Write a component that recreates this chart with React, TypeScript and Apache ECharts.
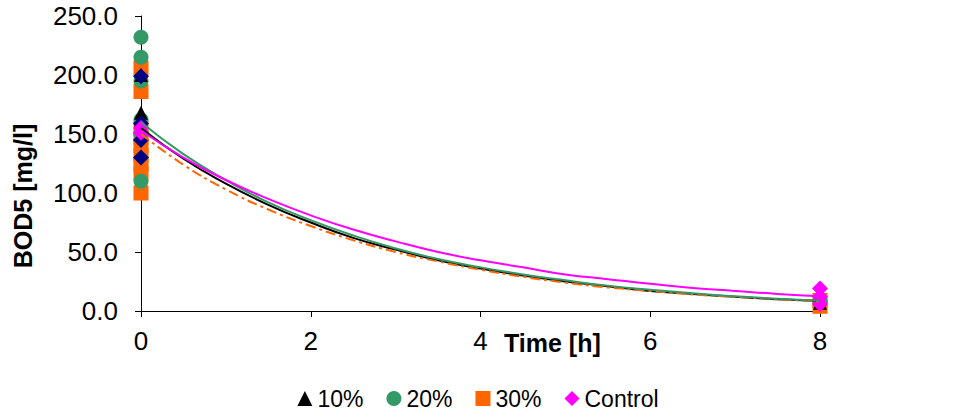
import React, { useEffect, useRef } from "react";
import * as echarts from "echarts";

const yTicks = [0, 50, 100, 150, 200, 250];
const xTicks = [0, 2, 4, 6, 8];

// measured points (time [h], BOD5 [mg/l])
const pts10: [number, number][] = [[0, 200], [0, 168], [0, 162], [8, 7]];
const pts20: [number, number][] = [[0, 232], [0, 215], [0, 195], [0, 162], [0, 150], [0, 110], [8, 8]];
const pts30: [number, number][] = [[0, 206], [0, 186], [0, 155], [0, 147], [0, 140], [0, 132], [0, 124], [0, 117], [0, 100], [8, 4], [8, 9]];
const ptsNavy: [number, number][] = [[0, 199], [0, 159], [0, 145], [0, 130]];
const ptsControl: [number, number][] = [[0, 155], [0, 151], [8, 19], [8, 12], [8, 6]];

// trend curves
const curveT = [0, 0.5, 1, 1.5, 2, 2.5, 3, 3.5, 4, 4.5, 5, 5.5, 6, 6.5, 7, 7.5, 8];
const curve10 = [155, 129, 108, 90, 75, 62, 52, 43, 36, 30, 25, 21, 17, 14.5, 12, 10, 8.4];
const curve20 = [160, 133, 111, 92, 77, 64, 53, 44, 37, 31, 26, 21.5, 18, 15, 12.5, 10.4, 8.7];
const curve30 = [150, 124, 103, 86, 72, 60, 50, 42, 35, 29, 24, 20, 17, 14, 12, 10, 8.2];
const curveControl = [153, 130, 111, 95, 81, 69, 59, 50, 43, 37, 31, 27, 23, 19.5, 17, 14.5, 12.5];

const FONT = "Liberation Sans, Arial, sans-serif";

export default function App() {
  const ref = useRef<HTMLDivElement>(null);
  useEffect(() => {
    if (!ref.current) return;
    const chart = echarts.init(ref.current, null, { renderer: "svg" });
    const pair = (ys: number[]) => curveT.map((t, i) => [t, ys[i]]);
    const scatter = (name: string, data: [number, number][], symbol: string, color: string, size: number) => ({
      name,
      type: "scatter",
      data,
      symbol,
      symbolSize: size,
      itemStyle: { color, opacity: 1 },
      z: 2,
    });
    const line = (name: string, ys: number[], color: string, type: any) => ({
      name,
      type: "line",
      data: pair(ys),
      smooth: true,
      showSymbol: false,
      symbol: "none",
      lineStyle: { color, width: 2, type },
      z: 3,
    });
    chart.setOption({
      animation: false,
      textStyle: { fontFamily: FONT },
      grid: { left: 141, right: 136, top: 16, bottom: 101, containLabel: false },
      xAxis: {
        type: "value",
        min: 0,
        max: 8,
        interval: 2,
        axisLine: { show: true, onZero: false, lineStyle: { color: "#000", width: 1 } },
        axisTick: { show: true, inside: false, length: 6, lineStyle: { color: "#000" } },
        axisLabel: { color: "#000", fontSize: 26, margin: 17, fontFamily: FONT },
        splitLine: { show: false },
      },
      yAxis: {
        type: "value",
        min: 0,
        max: 250,
        interval: 50,
        axisLine: { show: true, lineStyle: { color: "#000", width: 1 } },
        axisTick: { show: true, inside: false, length: 6, lineStyle: { color: "#000" } },
        axisLabel: {
          color: "#000",
          fontSize: 26,
          margin: 23,
          fontFamily: FONT,
          formatter: (v: number) => v.toFixed(1),
        },
        splitLine: { show: false },
      },
      legend: {
        data: [
          { name: "10%", icon: "triangle" },
          { name: "20%", icon: "circle" },
          { name: "30%", icon: "rect" },
          { name: "Control", icon: "diamond" },
        ],
        bottom: 2,
        padding: 0,
        left: "center",
        itemWidth: 15,
        itemHeight: 15,
        itemGap: 23,
        textStyle: { fontSize: 23, color: "#000", fontFamily: FONT },
      },
      graphic: [
        {
          type: "text",
          x: 23,
          y: 196,
          rotation: Math.PI / 2,
          style: {
            text: "BOD5 [mg/l]",
            font: `bold 25px ${FONT}`,
            fill: "#000",
            align: "center",
            verticalAlign: "middle",
          },
        },
        {
          type: "text",
          x: 504,
          y: 343,
          style: {
            text: "Time [h]",
            font: `bold 25px ${FONT}`,
            fill: "#000",
            align: "left",
            verticalAlign: "middle",
          },
        },
      ],
      series: [
        scatter("30%", pts30, "rect", "#FF6600", 15),
        scatter("20%", pts20, "circle", "#339966", 15),
        scatter("10%", pts10, "triangle", "#000000", 14),
        scatter("navy", ptsNavy, "diamond", "#000080", 16),
        scatter("Control", ptsControl, "diamond", "#FF00FF", 16),
        line("10% fit", curve10, "#000000", "solid"),
        line("30% fit", curve30, "#FF6600", [10, 4, 3, 4]),
        line("20% fit", curve20, "#339966", "solid"),
        line("Control fit", curveControl, "#FF00FF", "solid"),
      ],
    });
    return () => chart.dispose();
  }, []);
  return (
    <div
      ref={ref}
      style={{ position: "fixed", left: 0, top: 0, width: 956, height: 412, background: "#fff" }}
    />
  );
}
